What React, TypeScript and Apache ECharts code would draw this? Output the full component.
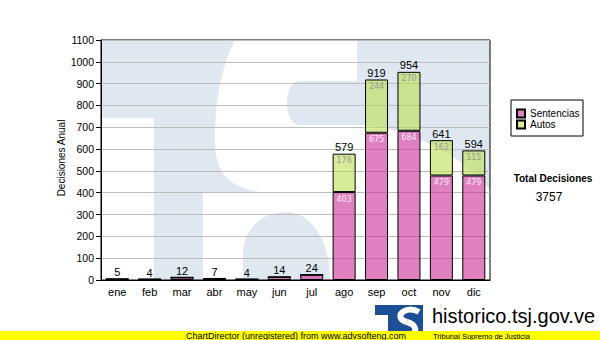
import React, { useEffect, useRef } from "react";
import * as echarts from "echarts";

const categories = ["ene", "feb", "mar", "abr", "may", "jun", "jul", "ago", "sep", "oct", "nov", "dic"];
const sentencias = [5, 4, 12, 7, 4, 14, 24, 403, 675, 684, 479, 479];
const autos = [0, 0, 0, 0, 0, 0, 0, 176, 244, 270, 162, 115];
const totalText = "3757";
const yMin = 0;
const yMax = 1100;
const yInterval = 100;

const S_PATH =
  "M134 0 L256 0 L256 41 L199 41 C190 41 186 52 186 63 C186 74 190 85 199 85 L259 85 C310 88 360 115 389 150 L389 240 L229 240 C229 200 210 172 185 172 C160 172 142 190 142 215 L142 240 L102 240 L102 152 L159 152 C125 147 114 130 114 100 C114 50 124 20 134 0 Z";

let registered = false;
function registerShapes() {
  if (registered) return;
  registered = true;
  echarts.graphic.registerShape("tsjS", echarts.graphic.extendPath(S_PATH, {}) as any);
}

const FONT = "Liberation Sans";

export default function App() {
  const ref = useRef<HTMLDivElement>(null);
  useEffect(() => {
    document.body.style.margin = "0";
    registerShapes();
    const chart = echarts.init(ref.current!, null, { renderer: "svg" });
    const totals = sentencias.map((v, i) => v + autos[i]);
    const plot = { x: 101, y: 40, w: 389, h: 240 };
    chart.setOption({
      animation: false,
      backgroundColor: "#ffffff",
      grid: {
        left: plot.x,
        top: plot.y,
        width: plot.w,
        height: plot.h,
        show: true,
        borderColor: "#000",
        borderWidth: 1,
        backgroundColor: "transparent",
      },
      legend: {
        data: ["Sentencias", "Autos"],
        orient: "vertical",
        left: 516,
        top: 108,
        itemWidth: 8,
        itemHeight: 8,
        itemGap: 0,
        padding: 0,
        icon: "rect",
        textStyle: { fontFamily: FONT, fontSize: 10, color: "#000", lineHeight: 11 },
      },
      xAxis: {
        type: "category",
        data: categories,
        axisLine: { lineStyle: { color: "#000", width: 1 } },
        axisTick: { alignWithLabel: true, length: 4, lineStyle: { color: "#000" } },
        axisLabel: { fontFamily: FONT, fontSize: 11, color: "#000", margin: 6 },
        splitLine: { show: false },
      },
      yAxis: {
        type: "value",
        min: yMin,
        max: yMax,
        interval: yInterval,
        axisLine: { show: true, lineStyle: { color: "#000", width: 1 } },
        axisTick: { show: true, length: 5, lineStyle: { color: "#000" } },
        axisLabel: {
          fontFamily: FONT,
          fontSize: 10.5,
          color: "#000",
          margin: 7,
          formatter: (v: number) => String(v),
        },
        splitLine: { show: true, lineStyle: { color: "#bdbdbd", width: 1 } },
      },
      series: [
        {
          name: "Sentencias",
          type: "bar",
          stack: "a",
          barWidth: 23,
          data: sentencias,
          itemStyle: { color: "rgba(203,43,150,0.6)", borderColor: "#000", borderWidth: 1 },
          label: {
            show: true,
            position: "insideTop",
            distance: 3,
            fontFamily: "DejaVu Sans",
            fontSize: 8,
            color: "#fcecf8",
            formatter: (p: any) => (p.value >= 100 ? String(p.value) : ""),
          },
        },
        {
          name: "Autos",
          type: "bar",
          stack: "a",
          barWidth: 23,
          data: autos,
          itemStyle: { color: "rgba(187,223,80,0.6)", borderColor: "#000", borderWidth: 1 },
          label: {
            show: true,
            position: "insideTop",
            distance: 3,
            fontFamily: "DejaVu Sans",
            fontSize: 8,
            color: "#9a9a9a",
            formatter: (p: any) => (p.value >= 50 ? String(p.value) : ""),
          },
        },
        {
          name: "total",
          type: "bar",
          stack: "a",
          barWidth: 23,
          data: categories.map(() => 0),
          itemStyle: { color: "transparent", borderWidth: 0 },
          label: {
            show: true,
            position: "top",
            distance: 1,
            fontFamily: FONT,
            fontSize: 11,
            color: "#000",
            formatter: (p: any) => String(totals[p.dataIndex]),
          },
        },
      ],
      graphic: [
        { type: "rect", z: -10, silent: true, shape: { x: plot.x, y: plot.y, width: plot.w, height: plot.h }, style: { fill: "#dfe8f1" } },
        { type: "rect", z: -9, silent: true, shape: { x: plot.x, y: 118, width: 53, height: 162 }, style: { fill: "#ffffff" } },
        { type: "tsjS", z: -9, silent: true, x: plot.x, y: plot.y, style: { fill: "#ffffff" } },
        {
          type: "text",
          x: 61,
          y: 158,
          rotation: Math.PI / 2,
          style: { text: "Decisiones Anual", fontFamily: FONT, fontSize: 10, fill: "#000", align: "center", verticalAlign: "middle" },
        },
        { type: "rect", shape: { x: 511, y: 100, width: 72, height: 36 }, style: { fill: "transparent", stroke: "#000", lineWidth: 1 } },
        {
          type: "text",
          x: 553,
          y: 178,
          style: { text: "Total Decisiones", fontFamily: FONT, fontSize: 10, fontWeight: "bold", fill: "#000", align: "center", verticalAlign: "middle" },
        },
        {
          type: "text",
          x: 549,
          y: 197,
          style: { text: totalText, fontFamily: FONT, fontSize: 12, fill: "#000", align: "center", verticalAlign: "middle" },
        },
        { type: "rect", shape: { x: 375, y: 305, width: 48, height: 35 }, style: { fill: "#1d4f96" } },
        { type: "rect", shape: { x: 375, y: 315, width: 13, height: 25 }, style: { fill: "#ffffff" } },
        {
          type: "bezierCurve",
          shape: { x1: 419, y1: 312, cpx1: 405, cpy1: 304, cpx2: 392, cpy2: 318, x2: 407, y2: 322 },
          style: { stroke: "#ffffff", lineWidth: 6, fill: "none" },
        },
        {
          type: "bezierCurve",
          shape: { x1: 407, y1: 322, cpx1: 424, cpy1: 327, cpx2: 412, cpy2: 343, x2: 395, y2: 334 },
          style: { stroke: "#ffffff", lineWidth: 6, fill: "none" },
        },
        {
          type: "text",
          x: 432,
          y: 316,
          style: { text: "historico.tsj.gov.ve", fontFamily: FONT, fontSize: 20, fill: "#000", align: "left", verticalAlign: "middle" },
        },
        { type: "rect", shape: { x: 0, y: 331, width: 600, height: 9 }, style: { fill: "#ffff00" } },
        {
          type: "text",
          x: 433,
          y: 340,
          style: { text: "Tribunal Supremo de Justicia", fontFamily: FONT, fontSize: 7.5, fill: "#000", align: "left", verticalAlign: "bottom" },
        },
        {
          type: "text",
          x: 296,
          y: 336,
          style: { text: "ChartDirector (unregistered) from www.advsofteng.com", fontFamily: FONT, fontSize: 9, fill: "#000", align: "center", verticalAlign: "middle" },
        },
      ],
    });
    return () => chart.dispose();
  }, []);
  return <div ref={ref} style={{ position: "fixed", left: 0, top: 0, width: 600, height: 340 }} />;
}
